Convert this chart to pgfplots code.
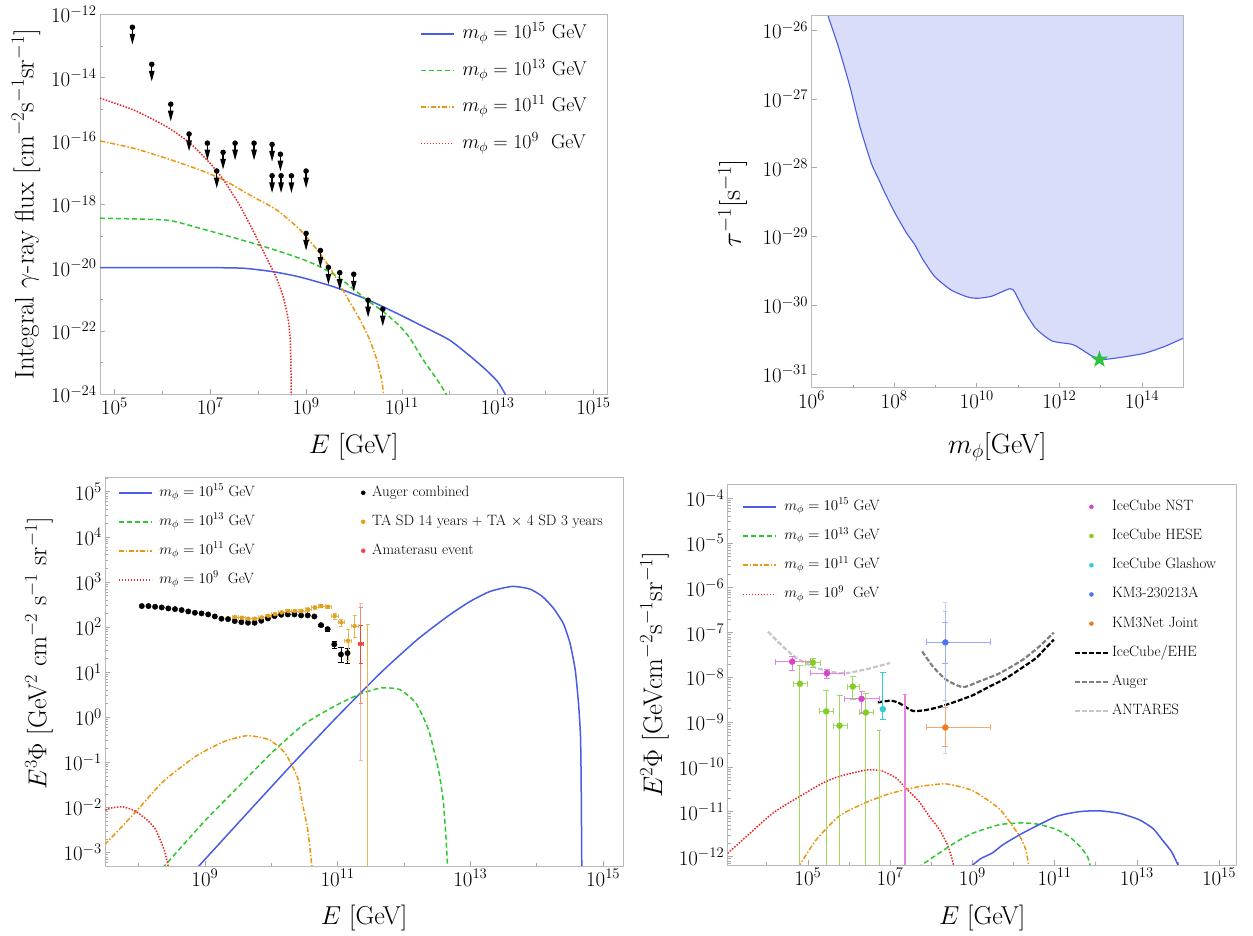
\RequirePackage{fix-cm}
\documentclass[border=0pt]{standalone}
\usepackage{fontspec}
\usepackage{pgfplots}
\pgfplotsset{compat=1.18}

\definecolor{cblue}{RGB}{72,92,230}
\definecolor{cgreen}{RGB}{45,200,45}
\definecolor{corange}{RGB}{235,150,15}
\definecolor{cred}{RGB}{235,35,35}
\definecolor{cfill}{RGB}{217,221,250}
\definecolor{cstar}{RGB}{45,195,65}
\definecolor{ta}{RGB}{225,160,30}
\definecolor{amat}{RGB}{235,70,60}
\definecolor{nst}{RGB}{220,65,200}
\definecolor{hese}{RGB}{130,205,40}
\definecolor{glash}{RGB}{50,205,205}
\definecolor{kmthree}{RGB}{80,115,235}
\definecolor{kmnet}{RGB}{240,120,30}

\def\mlist{-20}
\foreach \d in {-13,...,5}{\foreach \k in {0.30103,0.47712,0.60206,0.69897,0.77815,0.84510,0.90309,0.95424}{\pgfmathparse{\d+\k}\xdef\mlist{\mlist,\pgfmathresult}}}

\pgfdeclareplotmark{ulim}{%
  \pgfpathcircle{\pgfpointorigin}{2.8bp}\pgfusepathqfill
  \pgfsetlinewidth{1.2bp}%
  \pgfpathmoveto{\pgfpointorigin}\pgfpathlineto{\pgfpoint{0bp}{-7bp}}\pgfusepathqstroke
  \pgfpathmoveto{\pgfpoint{-2.9bp}{-6.5bp}}\pgfpathlineto{\pgfpoint{2.9bp}{-6.5bp}}\pgfpathlineto{\pgfpoint{0bp}{-17bp}}\pgfpathclose\pgfusepathqfill}

\pgfdeclareplotmark{fstar}{%
  \pgfpathmoveto{\pgfpoint{0bp}{9bp}}%
  \pgfpathlineto{\pgfpoint{-2.116bp}{2.912bp}}%
  \pgfpathlineto{\pgfpoint{-8.560bp}{2.781bp}}%
  \pgfpathlineto{\pgfpoint{-3.424bp}{-1.112bp}}%
  \pgfpathlineto{\pgfpoint{-5.290bp}{-7.281bp}}%
  \pgfpathlineto{\pgfpoint{0bp}{-3.6bp}}%
  \pgfpathlineto{\pgfpoint{5.290bp}{-7.281bp}}%
  \pgfpathlineto{\pgfpoint{3.424bp}{-1.112bp}}%
  \pgfpathlineto{\pgfpoint{8.560bp}{2.781bp}}%
  \pgfpathlineto{\pgfpoint{2.116bp}{2.912bp}}%
  \pgfpathclose\pgfusepathqfill}

\pgfplotsset{
  sblue/.style={cblue, line width=1.5bp, solid},
  sgreen/.style={cgreen, line width=1.5bp, dash pattern=on 5bp off 3bp},
  sorange/.style={corange, line width=1.5bp, dash pattern=on 5bp off 2bp on 1.5bp off 2bp},
  sred/.style={cred, line width=1.5bp, dash pattern=on 1.5bp off 1.5bp},
  sm/.style={smooth, tension=0.35},
  mframe/.style={scale only axis, anchor=south west, tick align=inside, tick pos=left,
    axis line style={draw=gray!55, line width=0.6bp},
    tick style={gray!70, line width=0.6bp}, major tick length=5bp, minor tick length=3bp,
    tick label style={font=\fontsize{21}{24}\selectfont},
    legend cell align=left,
    legend image code/.code={\draw[##1] (0bp,0bp) -- (33bp,0bp);}},
  dotleg/.style={legend image code/.code={\draw[##1] plot coordinates {(16.5bp,0bp)};}},
}

\begin{document}
\begin{tikzpicture}[x=1bp,y=1bp]
\useasboundingbox (0,0) rectangle (1253,936);

% ---------------- Panel 1 ----------------
\begin{axis}[mframe, at={(100bp,541.7bp)}, width=507.3bp, height=380bp,
  xmin=4.70, xmax=15.29, ymin=-24, ymax=-12,
  xtick={5,7,9,11,13,15}, xticklabels={$10^{5}$,$10^{7}$,$10^{9}$,$10^{11}$,$10^{13}$,$10^{15}$},
  minor xtick={6,8,10,12,14},
  ytick={-24,-22,-20,-18,-16,-14,-12}, yticklabels={$10^{-24}$,$10^{-22}$,$10^{-20}$,$10^{-18}$,$10^{-16}$,$10^{-14}$,$10^{-12}$},
  minor ytick={-23,-21,-19,-17,-15,-13},
  xlabel={$E$ [GeV]}, ylabel={Integral $\gamma$-ray flux [cm$^{-2}$s$^{-1}$sr$^{-1}$]},
  xlabel style={at={(axis description cs:0.5,-0.139)}, anchor=center, font=\fontsize{27}{30}\selectfont},
  ylabel style={at={(axis description cs:-0.146,0.5)}, anchor=center, font=\fontsize{27}{30}\selectfont},
  legend style={at={(axis description cs:0.630,0.9755)}, anchor=north west, draw=none, fill=none, inner sep=0bp,
    row sep=16.5bp, font=\fontsize{20}{24}\selectfont, nodes={inner sep=0bp, text height=15bp, text depth=5bp},
    /tikz/column 1/.style={column sep=8bp}},
]
\addplot[sblue, sm] coordinates {(4.70,-20.0)(6.0,-20.0)(7.0,-20.0)(7.7,-20.02)(8.32,-20.13)(8.88,-20.30)(9.57,-20.60)(10.27,-21.0)(10.96,-21.49)(11.5,-21.90)(12.0,-22.29)(12.43,-22.80)(12.75,-23.22)(13.0,-23.6)(13.16,-24.0)(13.2,-24.2)};
\addlegendentry{$m_\phi = 10^{15}$ GeV}
\addplot[sgreen, sm] coordinates {(4.70,-18.44)(6.09,-18.50)(6.79,-18.76)(7.48,-19.05)(8.18,-19.36)(8.88,-19.71)(9.29,-19.97)(9.71,-20.34)(10.27,-21.02)(10.62,-21.40)(10.96,-21.85)(11.17,-22.23)(11.45,-22.92)(11.72,-23.5)(11.93,-24.0)(11.97,-24.2)};
\addlegendentry{$m_\phi = 10^{13}$ GeV}
\addplot[sorange, sm] coordinates {(4.70,-16.0)(5.40,-16.23)(6.09,-16.55)(6.79,-16.92)(7.28,-17.23)(7.83,-17.71)(8.39,-18.18)(8.88,-18.81)(9.29,-19.55)(9.57,-20.18)(9.85,-20.92)(10.13,-21.65)(10.33,-22.28)(10.48,-22.92)(10.58,-23.55)(10.62,-24.0)(10.63,-24.2)};
\addlegendentry{$m_\phi = 10^{11}$ GeV}
\addplot[sred, sm] coordinates {(4.70,-14.65)(5.40,-15.02)(6.09,-15.55)(6.58,-16.07)(7.0,-16.71)(7.28,-17.23)(7.63,-18.07)(7.90,-18.85)(8.18,-19.70)(8.39,-20.35)(8.53,-20.95)(8.63,-21.65)(8.67,-22.28)(8.685,-23.0)(8.69,-24.0)(8.69,-24.3)};
\addlegendentry{$m_\phi = 10^{9}$\ \ GeV}
\addplot[only marks, mark=ulim, black, forget plot] coordinates {
(5.376,-12.41)(5.780,-13.58)(6.177,-14.84)(6.559,-15.78)(6.942,-16.07)(7.137,-16.95)(7.269,-16.36)
(7.520,-16.07)(7.916,-16.07)(8.292,-16.11)(8.466,-16.42)(8.292,-17.10)(8.480,-17.10)(8.696,-17.10)
(9.002,-16.95)(9.002,-18.92)(9.301,-19.46)(9.468,-19.99)(9.705,-20.16)(9.997,-20.21)(10.296,-21.03)(10.603,-21.31)};
\end{axis}

% ---------------- Panel 2 ----------------
\begin{axis}[mframe, axis on top, at={(811.5bp,548.3bp)}, width=371.8bp, height=372bp,
  xmin=6, xmax=15, ymin=-31.2, ymax=-25.79,
  xtick={6,8,10,12,14}, xticklabels={$10^{6}$,$10^{8}$,$10^{10}$,$10^{12}$,$10^{14}$},
  minor xtick={7,9,11,13},
  ytick={-31,-30,-29,-28,-27,-26}, yticklabels={$10^{-31}$,$10^{-30}$,$10^{-29}$,$10^{-28}$,$10^{-27}$,$10^{-26}$},
  xlabel={$m_\phi$[GeV]}, ylabel={$\tau^{-1}$[s$^{-1}$]},
  xlabel style={at={(axis description cs:0.5,-0.159)}, anchor=center, font=\fontsize{28}{32}\selectfont},
  ylabel style={at={(axis description cs:-0.211,0.496)}, anchor=center, font=\fontsize{28}{32}\selectfont},
]
\addplot[fill=cfill, draw=none, sm] coordinates {(6.36,-25.6)(6.40,-25.79)(6.64,-26.22)(6.93,-26.82)(7.17,-27.40)(7.45,-27.94)(7.65,-28.20)(7.77,-28.36)(8.02,-28.66)(8.31,-28.96)(8.50,-29.12)(8.70,-29.34)(8.99,-29.59)(9.38,-29.78)(9.77,-29.88)(10.02,-29.90)(10.36,-29.87)(10.80,-29.76)(10.92,-29.81)(11.14,-30.07)(11.43,-30.34)(11.82,-30.52)(12.31,-30.57)(12.50,-30.63)(12.79,-30.74)(13.04,-30.79)(13.48,-30.76)(14.06,-30.70)(14.55,-30.60)(15.0,-30.48)} -- (axis cs:15.2,-30.4) -- (axis cs:15.2,-25.5) -- (axis cs:6.3,-25.5) -- cycle;
\addplot[cblue, line width=1.1bp, sm] coordinates {(6.36,-25.6)(6.40,-25.79)(6.64,-26.22)(6.93,-26.82)(7.17,-27.40)(7.45,-27.94)(7.65,-28.20)(7.77,-28.36)(8.02,-28.66)(8.31,-28.96)(8.50,-29.12)(8.70,-29.34)(8.99,-29.59)(9.38,-29.78)(9.77,-29.88)(10.02,-29.90)(10.36,-29.87)(10.80,-29.76)(10.92,-29.81)(11.14,-30.07)(11.43,-30.34)(11.82,-30.52)(12.31,-30.57)(12.50,-30.63)(12.79,-30.74)(13.04,-30.79)(13.48,-30.76)(14.06,-30.70)(14.55,-30.60)(15.0,-30.48)};
\addplot[only marks, mark=fstar, cstar] coordinates {(12.97,-30.79)};
\end{axis}

% ---------------- Panel 3 ----------------
\begin{axis}[mframe, at={(105.3bp,70bp)}, width=517.7bp, height=388.7bp,
  xmin=7.5, xmax=15.3, ymin=-3.30, ymax=5.32,
  xtick={9,11,13,15}, xticklabels={$10^{9}$,$10^{11}$,$10^{13}$,$10^{15}$},
  minor xtick={8,10,12,14},
  ytick={-3,-2,-1,0,1,2,3,4,5}, yticklabels={$10^{-3}$,$10^{-2}$,$10^{-1}$,$10^{0}$,$10^{1}$,$10^{2}$,$10^{3}$,$10^{4}$,$10^{5}$},
  minor ytick/.expand once=\mlist,
  xlabel={$E$ [GeV]}, ylabel={$E^3\Phi$ [GeV$^2$\ cm$^{-2}$\ s$^{-1}$\ sr$^{-1}$]},
  xlabel style={at={(axis description cs:0.5,-0.135)}, anchor=center, font=\fontsize{26}{30}\selectfont},
  ylabel style={at={(axis description cs:-0.128,0.547)}, anchor=center, font=\fontsize{26}{30}\selectfont},
  legend columns=2,
  legend style={at={(axis description cs:0.0238,0.980)}, anchor=north west, draw=none, fill=none, inner sep=0bp,
    row sep=14bp, font=\fontsize{15}{18}\selectfont, nodes={inner sep=0bp, text height=11bp, text depth=4bp},
    /tikz/column 1/.style={column sep=7bp}, /tikz/column 2/.style={column sep=92bp}, /tikz/column 3/.style={column sep=7bp}},
]
\addplot[sblue, sm, forget plot] coordinates {(8.88,-3.35)(9.5,-2.35)(10.28,-1.10)(11.0,0.02)(11.66,1.0)(12.2,1.72)(12.67,2.25)(13.0,2.57)(13.3,2.79)(13.63,2.90)(13.9,2.84)(14.09,2.67)(14.25,2.42)(14.40,2.08)(14.50,1.65)(14.58,1.05)(14.63,0.3)(14.66,-0.43)(14.67,-1.5)(14.68,-3.5)};
\addplot[sgreen, sm, forget plot] coordinates {(8.36,-3.35)(9.0,-2.30)(9.5,-1.55)(10.0,-0.80)(10.5,-0.15)(11.0,0.28)(11.35,0.52)(11.66,0.65)(11.94,0.61)(12.18,0.31)(12.37,-0.28)(12.52,-1.17)(12.59,-1.84)(12.63,-2.6)(12.66,-3.4)};
\addplot[sorange, sm, forget plot] coordinates {(7.49,-2.83)(7.94,-2.13)(8.37,-1.43)(8.86,-0.87)(9.29,-0.54)(9.64,-0.41)(9.97,-0.50)(10.21,-0.80)(10.40,-1.35)(10.46,-1.84)(10.55,-2.5)(10.62,-3.4)};
\addplot[sred, sm, forget plot] coordinates {(7.50,-2.06)(7.6,-2.01)(7.77,-1.99)(7.95,-2.08)(8.13,-2.28)(8.25,-2.47)(8.33,-2.73)(8.40,-3.0)(8.46,-3.4)};
% Auger
\addplot[only marks, mark=*, mark size=2.7bp, black, forget plot] coordinates {
(8.05,2.464)(8.15,2.464)(8.25,2.449)(8.35,2.434)(8.45,2.412)(8.55,2.397)(8.65,2.375)(8.75,2.345)(8.85,2.316)(8.95,2.301)
(9.05,2.279)(9.15,2.234)(9.25,2.183)(9.35,2.175)(9.45,2.131)(9.55,2.108)(9.65,2.094)(9.75,2.094)(9.85,2.138)(9.95,2.190)
(10.05,2.242)(10.15,2.271)(10.25,2.279)(10.35,2.279)(10.45,2.257)(10.55,2.257)(10.65,2.234)};
\addplot[only marks, mark=*, mark size=2.7bp, black, forget plot,
  error bars/y dir=both, error bars/y explicit, error bars/error bar style={black, line width=0.8bp}] coordinates {
(10.75,2.042) +- (0,0.03)
(10.85,1.953) +- (0,0.04)
(10.95,1.615) += (0,0.073) -= (0,0.089)
(11.05,1.392) += (0,0.171) -= (0,0.177)
(11.15,1.421) += (0,0.105) -= (0,0.228)};
% TA
\addplot[only marks, mark=*, mark size=2bp, ta, forget plot,
  error bars/x dir=both, error bars/x explicit, error bars/y dir=both, error bars/y explicit,
  error bars/error bar style={ta!75!white, line width=0.8bp}] coordinates {
(9.456,2.220) +- (0.05,0.03)
(9.556,2.206) +- (0.05,0.03)
(9.656,2.183) +- (0.05,0.03)
(9.756,2.183) +- (0.05,0.03)
(9.856,2.213) +- (0.05,0.03)
(9.956,2.250) +- (0.05,0.03)
(10.056,2.287) +- (0.05,0.03)
(10.156,2.324) +- (0.05,0.03)
(10.256,2.354) +- (0.05,0.03)
(10.356,2.354) +- (0.05,0.03)
(10.456,2.354) +- (0.05,0.03)
(10.556,2.391) +- (0.05,0.03)
(10.656,2.435) +- (0.05,0.03)
(10.756,2.464) +- (0.05,0.035)
(10.856,2.450) +- (0.05,0.04)
(10.956,2.243) +- (0.05,0.07)
(11.056,2.102) +- (0.05,0.08)
(11.156,1.695) += (0.05,0.25) -= (0.05,0.43)
(11.256,2.021) += (0.05,0.245) -= (0.05,0.237)};
\addplot[mark=none, forget plot,
  error bars/y dir=both, error bars/y explicit, error bars/error bar style={ta!75!white, line width=1bp}] coordinates {
(11.455,0) += (0,2.06) -= (0,4)};
% Amaterasu
\addplot[mark=none, forget plot,
  error bars/y dir=both, error bars/y explicit, error bars/error bar style={amat!40!white, line width=1bp}] coordinates {
(11.35,1.625) += (0,0.905) -= (0,2.575)};
\addplot[mark=none, forget plot,
  error bars/y dir=both, error bars/y explicit, error bars/error bar style={amat!65!white, line width=1bp}] coordinates {
(11.35,1.625) += (0,0.825) -= (0,1.315)};
\addplot[only marks, mark=*, mark size=2bp, amat, forget plot,
  error bars/x dir=both, error bars/x explicit, error bars/y dir=both, error bars/y explicit,
  error bars/error bar style={amat, line width=1bp}] coordinates {
(11.35,1.625) +- (0.04,0.425)};
% legend
\addlegendimage{sblue}\addlegendentry{$m_\phi = 10^{15}$ GeV}
\addlegendimage{only marks, mark=*, mark size=2bp, black, dotleg}\addlegendentry{Auger combined}
\addlegendimage{sgreen}\addlegendentry{$m_\phi = 10^{13}$ GeV}
\addlegendimage{only marks, mark=*, mark size=2bp, ta, dotleg}\addlegendentry{TA SD 14 years + TA $\times$ 4 SD 3 years}
\addlegendimage{sorange}\addlegendentry{$m_\phi = 10^{11}$ GeV}
\addlegendimage{only marks, mark=*, mark size=2bp, amat, dotleg}\addlegendentry{Amaterasu event}
\addlegendimage{sred}\addlegendentry{$m_\phi = 10^{9}$\ \ GeV}
\addlegendimage{empty legend}\addlegendentry{}
\end{axis}

% ---------------- Panel 4 ----------------
\begin{axis}[mframe, at={(727.7bp,71bp)}, width=509bp, height=380.7bp,
  xmin=3.05, xmax=15.43, ymin=-12.19, ymax=-3.69,
  xtick={5,7,9,11,13,15}, xticklabels={$10^{5}$,$10^{7}$,$10^{9}$,$10^{11}$,$10^{13}$,$10^{15}$},
  minor xtick={4,6,8,10,12,14},
  ytick={-12,-11,-10,-9,-8,-7,-6,-5,-4}, yticklabels={$10^{-12}$,$10^{-11}$,$10^{-10}$,$10^{-9}$,$10^{-8}$,$10^{-7}$,$10^{-6}$,$10^{-5}$,$10^{-4}$},
  minor ytick/.expand once=\mlist,
  xlabel={$E$ [GeV]}, ylabel={$E^2\Phi$ [GeVcm$^{-2}$s$^{-1}$sr$^{-1}$]},
  xlabel style={at={(axis description cs:0.5,-0.140)}, anchor=center, font=\fontsize{26}{30}\selectfont},
  ylabel style={at={(axis description cs:-0.144,0.5)}, anchor=center, font=\fontsize{27}{30}\selectfont},
  legend columns=2,
  legend style={at={(axis description cs:0.0275,0.961)}, anchor=north west, draw=none, fill=none, inner sep=0bp,
    row sep=14.2bp, font=\fontsize{15}{18}\selectfont, nodes={inner sep=0bp, text height=11bp, text depth=4bp},
    /tikz/column 1/.style={column sep=8bp}, /tikz/column 2/.style={column sep=194bp}, /tikz/column 3/.style={column sep=3bp}},
]
\addplot[sred, sm, forget plot] coordinates {(3.05,-11.93)(3.34,-11.69)(4.15,-11.03)(4.80,-10.66)(5.36,-10.36)(5.77,-10.21)(6.42,-10.07)(6.8,-10.09)(7.15,-10.25)(7.41,-10.50)(7.71,-10.78)(7.95,-11.1)(8.20,-11.40)(8.40,-11.75)(8.52,-12.1)(8.56,-12.3)};
\addplot[sorange, sm, forget plot] coordinates {(4.76,-12.25)(5.20,-11.63)(5.77,-11.09)(6.4,-10.80)(6.98,-10.60)(7.7,-10.44)(8.36,-10.38)(9.01,-10.53)(9.66,-10.94)(10.14,-11.53)(10.30,-11.85)(10.38,-12.25)};
\addplot[sgreen, sm, forget plot] coordinates {(7.67,-12.25)(8.20,-11.92)(8.6,-11.68)(9.01,-11.48)(9.66,-11.29)(10.22,-11.25)(10.6,-11.28)(11.03,-11.39)(11.35,-11.55)(11.60,-11.76)(11.80,-12.0)(11.88,-12.25)};
\addplot[sblue, sm, forget plot] coordinates {(8.93,-12.25)(9.2,-12.05)(9.49,-11.92)(9.74,-11.74)(10.22,-11.48)(11.03,-11.11)(11.6,-11.0)(12.09,-10.98)(12.6,-11.04)(13.06,-11.18)(13.4,-11.38)(13.62,-11.63)(13.85,-11.9)(14.03,-12.25)};
% limits
\addplot[gray!45, line width=2.2bp, dash pattern=on 5bp off 2bp, sm, forget plot] coordinates {(4.03,-6.98)(4.39,-7.31)(4.72,-7.57)(5.20,-7.79)(5.77,-7.91)(5.93,-7.91)(6.42,-7.82)(7.0,-7.68)};
\addplot[gray, line width=2.2bp, dash pattern=on 5bp off 2bp, sm, forget plot] coordinates {(7.78,-7.42)(8.04,-7.76)(8.36,-8.05)(8.77,-8.22)(9.17,-8.09)(9.66,-7.91)(10.22,-7.61)(10.63,-7.31)(10.98,-7.00)};
\addplot[black, line width=2.2bp, dash pattern=on 5bp off 2bp, sm, forget plot] coordinates {(6.70,-8.56)(7.02,-8.52)(7.23,-8.58)(7.55,-8.75)(7.87,-8.73)(8.20,-8.66)(8.60,-8.54)(9.01,-8.40)(9.41,-8.21)(9.82,-8.02)(10.22,-7.78)(10.55,-7.57)(10.75,-7.38)(10.98,-7.16)};
% upper-limit-only bars
\addplot[mark=none, forget plot,
  error bars/y dir=both, error bars/y explicit, error bars/error bar style={nst!65!white, line width=1.2bp}] coordinates {
(7.364,-10.5) += (0,2.12) -= (0,3)};
\addplot[mark=none, forget plot,
  error bars/y dir=both, error bars/y explicit, error bars/error bar style={hese!75!white, line width=1bp}] coordinates {
(6.741,-10.5) += (0,1.31) -= (0,3)};
% HESE
\addplot[only marks, mark=*, mark size=3bp, hese, forget plot,
  error bars/x dir=both, error bars/x explicit, error bars/y dir=both, error bars/y explicit,
  error bars/error bar style={hese!75!white, line width=1bp}] coordinates {
(5.121,-7.67) += (0.187,0.10) -= (0.186,0.10)
(4.806,-8.145) += (0.178,0.425) -= (0.17,5)
(5.445,-8.76) += (0.178,0.48) -= (0.162,5)
(5.769,-9.08) += (0.178,0.67) -= (0.146,5)
(6.093,-8.205) += (0.162,0.225) -= (0.146,0.285)
(6.409,-8.785) += (0.17,0.435) -= (0.154,5)};
% NST
\addplot[only marks, mark=*, mark size=3bp, nst, forget plot,
  error bars/x dir=both, error bars/x explicit, error bars/y dir=both, error bars/y explicit,
  error bars/error bar style={nst!65!white, line width=1bp}] coordinates {
(4.619,-7.65) += (0.438,0.115) -= (0.413,0.185)
(5.462,-7.91) += (0.429,0.09) -= (0.405,0.12)
(6.304,-8.48) += (0.421,0.16) -= (0.413,0.31)};
% Glashow
\addplot[only marks, mark=*, mark size=3bp, glash, forget plot,
  error bars/y dir=both, error bars/y explicit, error bars/error bar style={glash, line width=1bp}] coordinates {
(6.822,-8.71) += (0,0.83) -= (0,0.23)};
% KM3-230213A
\addplot[mark=none, forget plot,
  error bars/y dir=both, error bars/y explicit, error bars/error bar style={kmthree!30!white, line width=1.2bp}] coordinates {
(8.344,-7.22) += (0,0.89) -= (0,2.47)};
\addplot[mark=none, forget plot,
  error bars/y dir=both, error bars/y explicit, error bars/error bar style={kmthree!45!white, line width=1.2bp}] coordinates {
(8.344,-7.22) += (0,0.69) -= (0,1.28)};
\addplot[only marks, mark=*, mark size=3bp, kmthree, forget plot,
  error bars/x dir=both, error bars/x explicit, error bars/y dir=both, error bars/y explicit,
  error bars/error bar style={kmthree!60!white, line width=1.2bp}] coordinates {
(8.344,-7.22) += (1.085,0.44) -= (0.47,0.46)};
% KM3NeT joint
\addplot[only marks, mark=*, mark size=3bp, kmnet, forget plot,
  error bars/x dir=both, error bars/x explicit, error bars/y dir=both, error bars/y explicit,
  error bars/error bar style={kmnet!65!white, line width=1.2bp}] coordinates {
(8.344,-9.12) += (1.085,0.45) -= (0.47,0.42)};
% legend
\addlegendimage{sblue}\addlegendentry{$m_\phi = 10^{15}$ GeV}
\addlegendimage{only marks, mark=*, mark size=2bp, nst, dotleg}\addlegendentry{IceCube NST}
\addlegendimage{sgreen}\addlegendentry{$m_\phi = 10^{13}$ GeV}
\addlegendimage{only marks, mark=*, mark size=2bp, hese, dotleg}\addlegendentry{IceCube HESE}
\addlegendimage{sorange}\addlegendentry{$m_\phi = 10^{11}$ GeV}
\addlegendimage{only marks, mark=*, mark size=2bp, glash, dotleg}\addlegendentry{IceCube Glashow}
\addlegendimage{sred}\addlegendentry{$m_\phi = 10^{9}$\ \ GeV}
\addlegendimage{only marks, mark=*, mark size=2bp, kmthree, dotleg}\addlegendentry{KM3-230213A}
\addlegendimage{empty legend}\addlegendentry{}
\addlegendimage{only marks, mark=*, mark size=2bp, kmnet, dotleg}\addlegendentry{KM3Net Joint}
\addlegendimage{empty legend}\addlegendentry{}
\addlegendimage{black, line width=2.2bp, dash pattern=on 5bp off 2bp}\addlegendentry{IceCube/EHE}
\addlegendimage{empty legend}\addlegendentry{}
\addlegendimage{gray, line width=2.2bp, dash pattern=on 5bp off 2bp}\addlegendentry{Auger}
\addlegendimage{empty legend}\addlegendentry{}
\addlegendimage{gray!45, line width=2.2bp, dash pattern=on 5bp off 2bp}\addlegendentry{ANTARES}
\end{axis}
\end{tikzpicture}
\end{document}
